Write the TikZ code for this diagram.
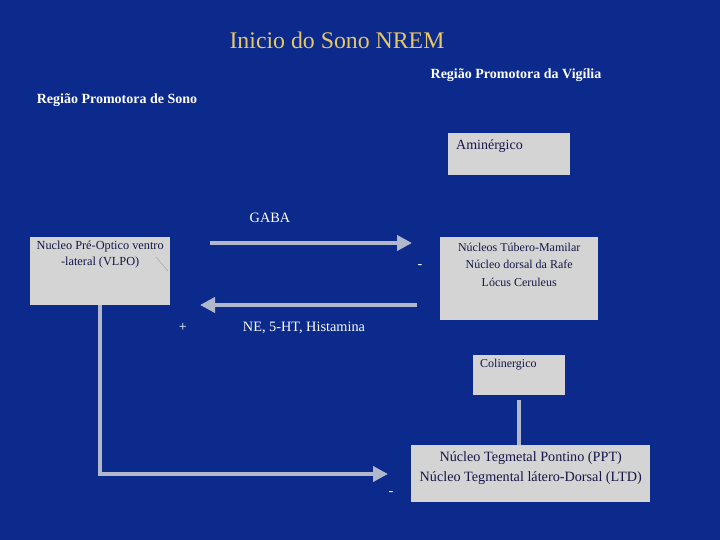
\documentclass[tikz,border=0pt]{standalone}
\usepackage{fontspec}
\setmainfont{Liberation Serif}
\usetikzlibrary{arrows.meta, positioning}
\definecolor{bgblue}{RGB}{12,42,140}
\definecolor{boxgray}{RGB}{212,212,212}
\definecolor{arrowgray}{RGB}{178,184,204}
\definecolor{inktext}{RGB}{22,22,72}
\definecolor{titlegold}{RGB}{232,200,100}

\begin{document}
\begin{tikzpicture}[
        x=1pt, y=-1pt,
        box/.style={fill=boxgray, inner sep=0pt, anchor=north west},
        boxtext/.style={text=inktext, font=\fontsize{12}{17.5}\selectfont, align=center, inner sep=0pt},
        arrow/.style={-{Triangle[length=15pt,width=15pt]}, line width=4.5pt, draw=arrowgray},
        link/.style={line width=4.5pt, draw=arrowgray},
        caption/.style={text=white, font=\fontsize{14.3}{16}\selectfont, inner sep=0pt}
    ]
        \fill[bgblue] (0,0) rectangle (720,540);
        \useasboundingbox (0,0) rectangle (720,540);

        % titulos
        \node[text=titlegold, font=\fontsize{23.8}{26}\selectfont, inner sep=0pt] (title) at (337,40) {Inicio do Sono NREM};
        \node[caption, font=\bfseries\fontsize{14}{16}\selectfont] (vigilia) at (516,75) {Região Promotora da Vigília};
        \node[caption, font=\bfseries\fontsize{14}{16}\selectfont] (sono) at (117,100) {Região Promotora de Sono};

        % caixas
        \node[box, minimum width=122pt, minimum height=42pt] (amin) at (448,133) {};
        \node[boxtext, anchor=west, font=\fontsize{14}{16}\selectfont] (amintext) at ([xshift=8pt, yshift=-13pt]amin.north west) {Aminérgico};

        \node[box, minimum width=140pt, minimum height=68pt] (vlpo) at (30,237) {};
        \node[boxtext, font=\fontsize{12.3}{16}\selectfont] (vlpotext) at ([yshift=-18pt]vlpo.north) {Nucleo Pré-Optico ventro\\-lateral (VLPO)};
        \draw[gray!70, line width=0.5pt] (156,257) -- (168,271);

        \node[box, minimum width=158pt, minimum height=83pt] (tmn) at (440,237) {};
        \node[boxtext] (tmntext) at ([yshift=-27.5pt]tmn.north) {Núcleos Túbero-Mamilar\\Núcleo dorsal da Rafe\\Lócus Ceruleus};

        \node[box, minimum width=92pt, minimum height=40pt] (colin) at (473,355) {};
        \node[boxtext, anchor=west, font=\fontsize{12}{14}\selectfont] (colintext) at ([xshift=7pt, yshift=-10pt]colin.north west) {Colinergico};

        \node[box, minimum width=239pt, minimum height=57pt] (ppt) at (411,445) {};
        \node[boxtext, font=\fontsize{14.2}{20}\selectfont] (ppttext) at ([yshift=-23pt]ppt.north) {Núcleo Tegmetal Pontino (PPT)\\Núcleo Tegmental látero-Dorsal (LTD)};

        % setas
        \coordinate (gabaA) at (210,243);
        \coordinate (gabaB) at (412,243);
        \draw[arrow] (gabaA) -- (gabaB);
        \node[caption] (gaba) at (270,218) {GABA};
        \node[caption] (menosA) at (420,267) {-};

        \coordinate (neA) at (417,305);
        \coordinate (neB) at (200,305);
        \draw[arrow] (neA) -- (neB);
        \node[caption] (mais) at (183,327) {+};
        \node[caption] (ne) at (304,328) {NE, 5-HT, Histamina};

        \coordinate (pptin) at (388,474);
        \draw[arrow] (vlpo.south) |- (pptin);
        \node[caption] (menosB) at (391,494) {-};

        \draw[link] ([yshift=-5pt]colin.south) -- (ppt.north -| colin.south);
    \end{tikzpicture}
\end{document}
